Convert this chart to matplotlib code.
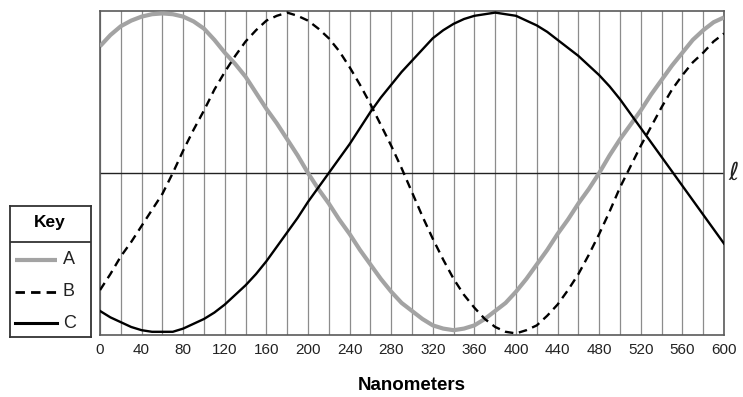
import numpy as np
import matplotlib.pyplot as plt
from matplotlib.ticker import MultipleLocator

plt.rcParams['font.family'] = ['Liberation Sans', 'DejaVu Sans']

# wavelength axis, nm (one reading every 10 nm, 0..600)
nm = np.arange(0, 601, 10)

# displacement relative to line l (1 = top of the grid, -1 = bottom)
wave_a = [0.79, 0.86, 0.915, 0.95, 0.975, 0.99, 0.995, 0.99, 0.975, 0.945,
          0.90, 0.83, 0.75, 0.68, 0.60, 0.50, 0.40, 0.31, 0.21, 0.11,
          0.0, -0.10, -0.19, -0.29, -0.38, -0.48, -0.57, -0.66, -0.74, -0.81,
          -0.86, -0.91, -0.95, -0.97, -0.98, -0.97, -0.95, -0.91, -0.86, -0.81,
          -0.74, -0.66, -0.57, -0.48, -0.38, -0.29, -0.19, -0.10, 0.0, 0.11,
          0.21, 0.30, 0.39, 0.49, 0.58, 0.67, 0.75, 0.83, 0.89, 0.94, 0.97]
wave_b = [-0.73, -0.63, -0.52, -0.43, -0.33, -0.23, -0.13, 0.0, 0.14, 0.27,
          0.39, 0.52, 0.63, 0.73, 0.82, 0.89, 0.95, 0.98, 1.0, 0.98,
          0.95, 0.90, 0.84, 0.76, 0.66, 0.55, 0.43, 0.30, 0.17, 0.03,
          -0.12, -0.27, -0.41, -0.54, -0.66, -0.76, -0.84, -0.91, -0.96, -0.99,
          -1.0, -0.98, -0.95, -0.89, -0.82, -0.73, -0.63, -0.51, -0.38, -0.24,
          -0.09, 0.04, 0.17, 0.29, 0.41, 0.52, 0.61, 0.69, 0.75, 0.82, 0.87]
wave_c = [-0.86, -0.90, -0.93, -0.96, -0.98, -0.99, -0.99, -0.99, -0.97, -0.94,
          -0.91, -0.87, -0.82, -0.76, -0.70, -0.63, -0.55, -0.46, -0.37, -0.28,
          -0.18, -0.09, 0.0, 0.09, 0.18, 0.28, 0.38, 0.47, 0.55, 0.63,
          0.70, 0.77, 0.84, 0.89, 0.93, 0.96, 0.98, 0.99, 1.0, 0.99,
          0.98, 0.95, 0.92, 0.88, 0.83, 0.78, 0.73, 0.67, 0.61, 0.54,
          0.46, 0.37, 0.28, 0.19, 0.10, 0.01, -0.08, -0.17, -0.26, -0.35, -0.44]

key_labels = ["A", "B", "C"]
gray = "#a3a3a3"
dash = (0, (3.6, 2.4))

fig = plt.figure(figsize=(7.43, 3.97), dpi=100)
ax = fig.add_axes([100 / 743, 62 / 397, 624 / 743, 324 / 397])

ax.plot(nm, wave_a, color=gray, lw=3.0, solid_capstyle="butt", zorder=3)
ax.plot(nm, wave_b, color="black", lw=1.7, linestyle=dash, zorder=4)
ax.plot(nm, wave_c, color="black", lw=1.7, zorder=5)
ax.axhline(0, color="#222222", lw=1.0, zorder=2)

ax.set_xlim(0, 600)
ax.set_ylim(-1.01, 1.01)
ax.xaxis.set_major_locator(MultipleLocator(40))
ax.xaxis.set_minor_locator(MultipleLocator(20))
ax.set_yticks([])
ax.grid(True, which="both", axis="x", color="#8c8c8c", lw=0.9)
ax.tick_params(axis="x", which="both", length=0, pad=6, labelsize=11, labelcolor="#222222")
for s in ax.spines.values():
    s.set_color("#5a5a5a")
    s.set_linewidth(1.2)
ax.set_xlabel("Nanometers", fontsize=13.5, fontweight="bold", labelpad=14)
ax.text(1.006, 0.5, r"$\ell$", transform=ax.transAxes, fontsize=18,
        ha="left", va="center", color="#222222")

# key box
kax = fig.add_axes([10 / 743, 60 / 397, 81 / 743, 131 / 397])
kax.set_xlim(0, 81)
kax.set_ylim(131, 0)
kax.set_xticks([])
kax.set_yticks([])
for s in kax.spines.values():
    s.set_color("#333333")
    s.set_linewidth(1.3)
kax.axhline(36, color="#333333", lw=1.3)
kax.text(40, 17, "Key", fontsize=12.5, fontweight="bold", ha="center", va="center")
styles = [dict(color=gray, lw=3.0, solid_capstyle="butt"),
          dict(color="black", lw=2.0, linestyle=(0, (3.4, 2.2))),
          dict(color="black", lw=2.2)]
for i, (lab, st) in enumerate(zip(key_labels, styles)):
    y = 54 + i * 31.5
    kax.plot([5, 47], [y, y], **st)
    kax.text(53, y, lab, fontsize=13, ha="left", va="center", color="#222222")

fig.savefig("out.png", dpi=100)
